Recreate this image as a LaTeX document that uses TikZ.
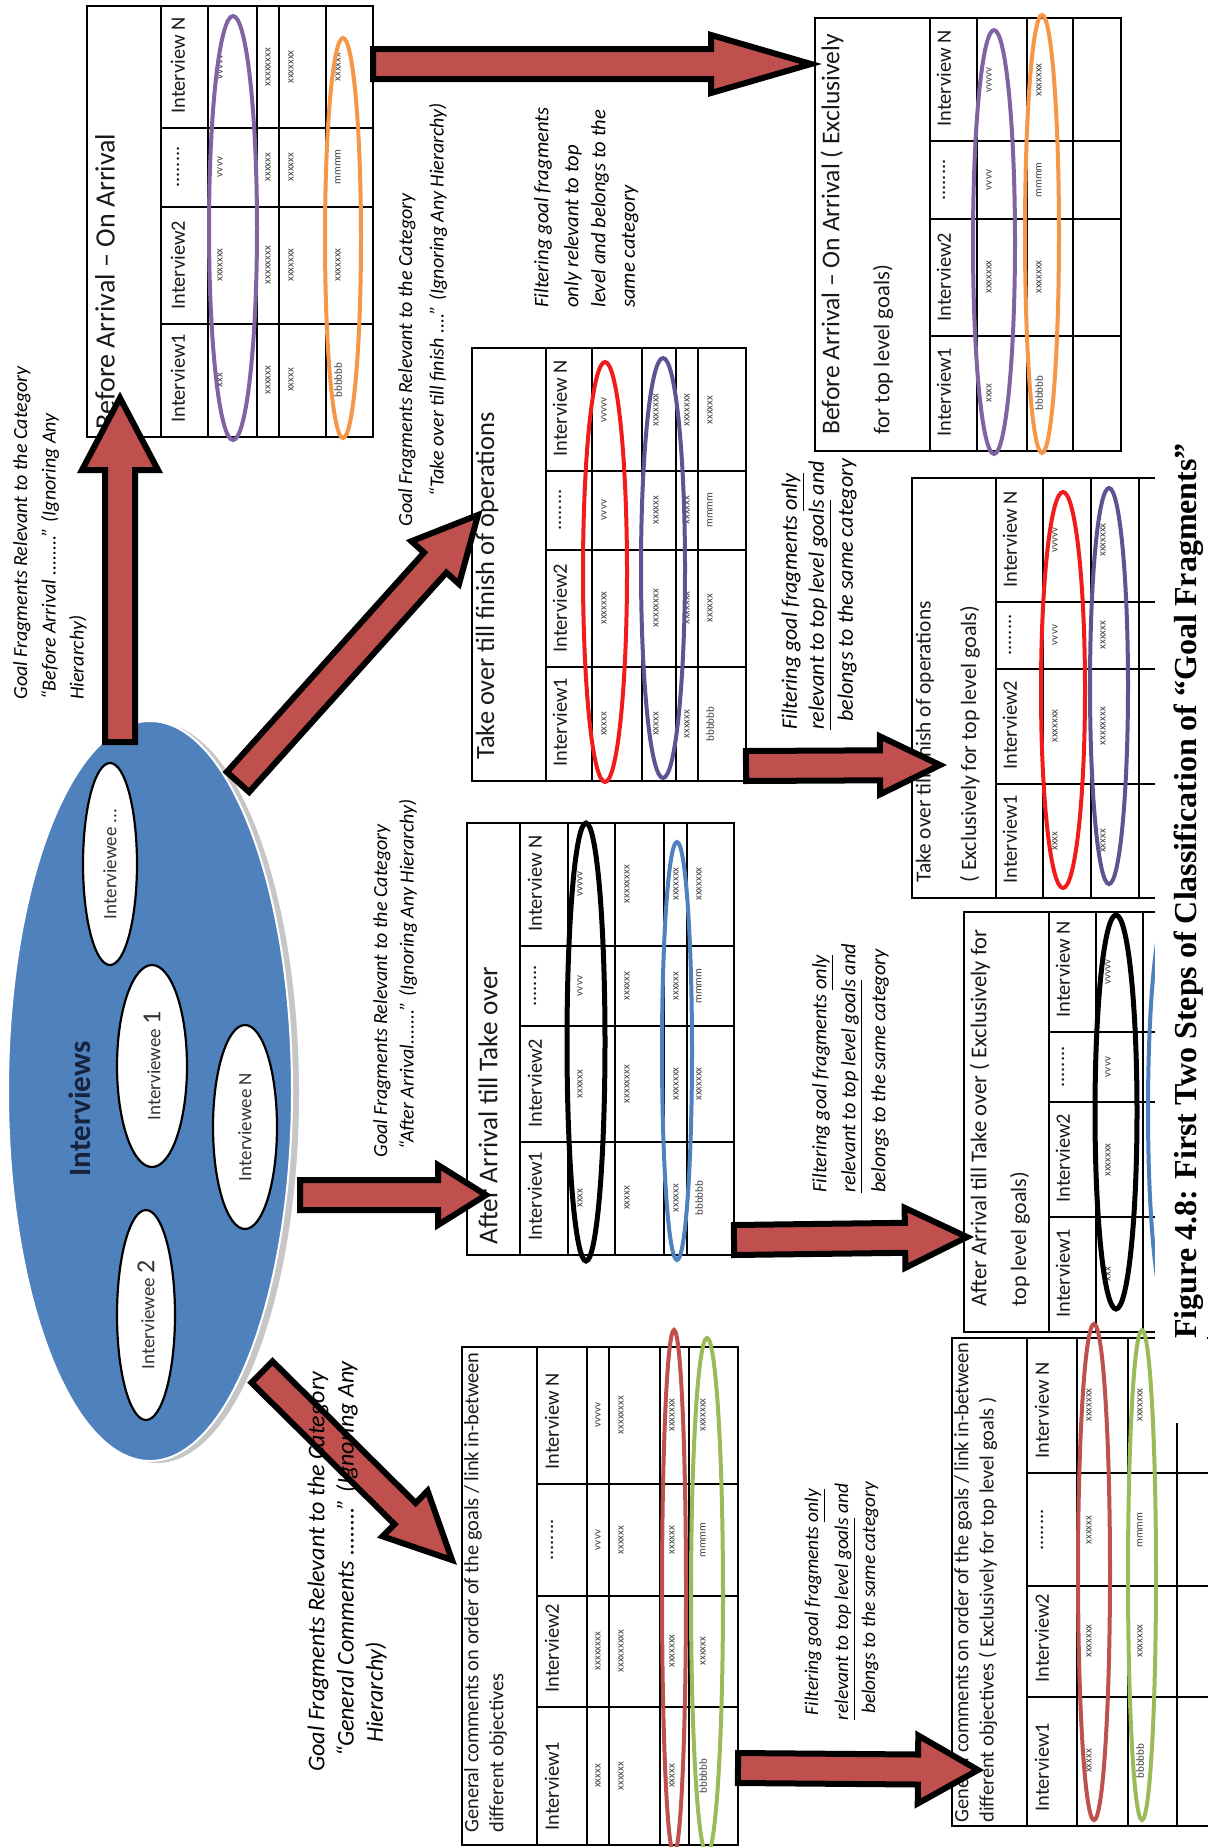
\documentclass[tikz,border=0pt]{standalone}
\usepackage{fontspec}
\setmainfont{Carlito}
\newfontfamily\captionserif{Liberation Serif}
\usetikzlibrary{shapes.geometric,calc}

\definecolor{arrowfill}{HTML}{C0504D}
\definecolor{poolblue}{HTML}{4F81BD}
\definecolor{ringpurple}{HTML}{8064A2}
\definecolor{ringorange}{HTML}{F79646}
\definecolor{ringred}{HTML}{F21B1B}
\definecolor{ringslate}{HTML}{5F5491}
\definecolor{ringblue}{HTML}{4F81BD}
\definecolor{ringbrick}{HTML}{C0504D}
\definecolor{ringgreen}{HTML}{9BBB59}
\definecolor{navyink}{HTML}{16233F}

\newcommand{\fsz}[1]{\fontsize{#1}{#1}\selectfont}

% fat outlined arrow from coordinate #1 to tip #2;
% #3 half shaft width, #4 half head width, #5 head length
\newcommand{\blockarrow}[5]{%
  \coordinate (ba-h) at ($(#2)!#5!(#1)$);
  \filldraw[fatarrow]
    ($(#1)!#3!90:(#2)$) -- ($(ba-h)!#3!-90:(#1)$) -- ($(ba-h)!#4!-90:(#1)$) -- (#2)
    -- ($(ba-h)!#4!90:(#1)$) -- ($(ba-h)!#3!90:(#1)$) -- ($(#1)!#3!-90:(#2)$) -- cycle;
}
% header row: prefix, x, lower ends of the Interview1 / Interview2 columns,
% centre of the dotted column, lower end of the Interview N column
\newcommand{\headrow}[6]{%
  \node[hdr] (#1-h1) at (#2,#3-14) {Interview1};
  \node[hdr] (#1-h2) at (#2,#4-14) {Interview2};
  \node[hdr,anchor=center] (#1-h3) at (#2,#5) {........};
  \node[hdr] (#1-h4) at (#2,#6-14) {Interview N};
}
\newcommand{\setcols}[4]{\def\colA{#1}\def\colB{#2}\def\colC{#3}\def\colD{#4}}
\newcommand{\cellrow}[6]{%
  \node[cell] (#1-a) at (#2,\colA) {#3};
  \node[cell] (#1-b) at (#2,\colB) {#4};
  \node[cell] (#1-c) at (#2,\colC) {#5};
  \node[cell] (#1-d) at (#2,\colD) {#6};
}

\begin{document}
\begin{tikzpicture}[x=0.5pt,y=-0.5pt,
  grid/.style={draw=black,line width=1.1pt},
  ttl/.style={rotate=90,anchor=west,inner sep=0pt,text=black!90},
  hdr/.style={rotate=90,anchor=west,inner sep=0pt,font=\fsz{10.2},text=black!90},
  cell/.style={rotate=90,inner sep=0pt,font=\fsz{5.5},text=black!75},
  lbl/.style={rotate=90,anchor=west,inner sep=0pt,text=black},
  ring/.style={line width=2pt},
  fatarrow/.style={fill=arrowfill,draw=black,line width=3pt,line join=miter},
  person/.style={ellipse,draw=black,line width=1.1pt,fill=white,rotate=90,inner sep=0pt,
                 font=\fsz{9.5},text=black!80}]
\useasboundingbox (0,0) rectangle (1207,1847);
\fill[white] (0,0) rectangle (1207,1847);

% ---------------- interview pool ----------------
\fill[gray!45] (157,1093) ellipse [x radius=142, y radius=370];
\node[ellipse,fill=poolblue,draw=white,line width=1pt,minimum width=142pt,minimum height=370pt,inner sep=0pt] (pool) at (150,1091) {};
\node[rotate=90,font=\bfseries\fsz{15.5},text=navyink] (pool-title) at (80,1109) {Interviews};
\node[person,minimum width=101pt,minimum height=27pt] (iw-more) at (110,864) {Interviewee ...};
\node[person,minimum width=101pt,minimum height=35pt] (iw-one) at (152,1066) {Interviewee {\fsz{13}1}};
\node[person,minimum width=102pt,minimum height=32pt] (iw-n) at (245,1127) {Interviewee N};
\node[person,minimum width=105pt,minimum height=29pt] (iw-two) at (146,1315) {Interviewee {\fsz{13}2}};

% ---------------- Before Arrival - On Arrival ----------------
\draw[grid] (87,6) rectangle (373,437);
\foreach \r in {161,208,257,279,326} \draw[grid] (\r,6) -- (\r,437);
\foreach \c in {128,207,324} \draw[grid] (161,\c) -- (373,\c);
\node[ttl,font=\fsz{14}] (t1-title) at (105,430) {Before Arrival – On Arrival};
\headrow{t1}{178}{437}{324}{167}{128}
\setcols{380}{265}{167}{67}
\cellrow{t1r1}{220}{xxx}{xxxxxxx}{vvvv}{vvvvv}
\cellrow{t1r2}{268}{xxxxxx}{xxxxxxxx}{xxxxxx}{xxxxxxxx}
\cellrow{t1r3}{291}{xxxxx}{xxxxxxx}{xxxxxx}{xxxxxxx}
\cellrow{t1r4}{338}{bbbbbb}{xxxxxxx}{mmmm}{xxxxxx}
\draw[ring,ringpurple] (233,228) ellipse [x radius=24, y radius=212];
\draw[ring,ringorange] (343,238) ellipse [x radius=18, y radius=200];

% ---------------- Before Arrival - On Arrival (top level) ----------------
\draw[grid] (815,18) rectangle (1121,451);
\foreach \r in {930,977,1027,1073} \draw[grid] (\r,18) -- (\r,451);
\foreach \c in {141,219,336} \draw[grid] (930,\c) -- (1121,\c);
\node[ttl,font=\fsz{12.8}] (t2-title) at (832,435) {Before Arrival – On Arrival ( Exclusively};
\node[ttl,font=\fsz{11.3}] (t2-title2) at (883,435) {for top level goals)};
\headrow{t2}{944}{451}{336}{180}{141}
\setcols{393}{277}{180}{80}
\cellrow{t2r1}{989}{xxxx}{xxxxxxx}{vvvv}{vvvvv}
\cellrow{t2r2}{1039}{bbbbbb}{xxxxxxx}{mmmm}{xxxxxxx}
\draw[ring,ringpurple] (994,242) ellipse [x radius=21, y radius=212];
\draw[ring,ringorange] (1042,234) ellipse [x radius=17, y radius=219];

% ---------------- Take over till finish of operations ----------------
\draw[grid] (472,348) rectangle (746,781);
\foreach \r in {546,592,642,676,698} \draw[grid] (\r,348) -- (\r,781);
\foreach \c in {471,550,667} \draw[grid] (546,\c) -- (746,\c);
\node[ttl,font=\fsz{13.2}] (t3-title) at (487,760) {Take over till finish of operations};
\headrow{t3}{560}{781}{667}{510}{471}
\setcols{724}{608}{510}{410}
\cellrow{t3r1}{604}{xxxxx}{xxxxxxx}{vvvv}{vvvvv}
\cellrow{t3r2}{656}{xxxxx}{xxxxxxxx}{xxxxxx}{xxxxxxx}
\cellrow{t3r3}{687}{xxxxxx}{xxxxxxx}{xxxxxx}{xxxxxxx}
\cellrow{t3r4}{710}{bbbbbb}{xxxxxx}{mmmm}{xxxxxx}
\draw[ring,ringred] (605,572) ellipse [x radius=22, y radius=210];
\draw[ring,ringslate] (663,568) ellipse [x radius=22, y radius=210];

% ---------------- Take over ... (top level) ----------------
\draw[grid] (912,478) rectangle (1170,898);
\foreach \r in {996,1043,1091,1139} \draw[grid] (\r,478) -- (\r,898);
\foreach \c in {602,669,784} \draw[grid] (996,\c) -- (1170,\c);
\node[ttl,font=\fsz{10.7}] (t4-title) at (925,883) {Take over till finish of operations};
\node[ttl,font=\fsz{11}] (t4-title2) at (970,883) {( Exclusively for top level goals)};
\headrow{t4}{1010}{898}{784}{635}{602}
\setcols{841}{726}{635}{540}
\cellrow{t4r1}{1055}{xxxx}{xxxxxxx}{vvvv}{vvvvv}
\cellrow{t4r2}{1103}{xxxxx}{xxxxxxxx}{xxxxxx}{xxxxxxx}
\draw[ring,ringred] (1063,690) ellipse [x radius=22, y radius=198];
\draw[ring,ringslate] (1109,686) ellipse [x radius=19, y radius=198];

% ---------------- After Arrival till Take over ----------------
\draw[grid] (467,823) rectangle (734,1255);
\foreach \r in {520,568,615,664,687} \draw[grid] (\r,823) -- (\r,1255);
\foreach \c in {946,1026,1142} \draw[grid] (520,\c) -- (734,\c);
\node[ttl,font=\fsz{13.6}] (t5-title) at (488,1245) {After Arrival till Take over};
\headrow{t5}{535}{1255}{1142}{986}{946}
\setcols{1198}{1084}{986}{884}
\cellrow{t5r1}{580}{xxxx}{xxxxxx}{vvvv}{vvvvv}
\cellrow{t5r2}{627}{xxxxx}{xxxxxxxx}{xxxxxx}{xxxxxxxx}
\cellrow{t5r3}{676}{xxxxxx}{xxxxxxx}{xxxxxx}{xxxxxxx}
\cellrow{t5r4}{699}{bbbbbb}{xxxxxxx}{mmmm}{xxxxxxx}
\draw[ring,black,line width=2.5pt] (586,1042) ellipse [x radius=19, y radius=219];
\draw[ring,ringblue] (677,1051) ellipse [x radius=15, y radius=209];

% ---------------- After Arrival ... (top level) ----------------
\draw[grid] (964,912) rectangle (1170,1332);
\foreach \r in {1049,1096,1143} \draw[grid] (\r,912) -- (\r,1332);
\foreach \c in {1032,1102,1217} \draw[grid] (1049,\c) -- (1170,\c);
\node[ttl,font=\fsz{11.3}] (t6-title) at (980,1307) {After Arrival till Take over ( Exclusively for};
\node[ttl,font=\fsz{11}] (t6-title2) at (1020,1307) {top level goals)};
\headrow{t6}{1063}{1332}{1217}{1067}{1032}
\setcols{1274}{1160}{1067}{972}
\cellrow{t6r1}{1108}{xxx}{xxxxxxx}{vvvv}{vvvvv}
\draw[ring,black,line width=2.5pt] (1116,1112) ellipse [x radius=21, y radius=197];
\draw[ring,ringblue] (1168,1110) ellipse [x radius=20, y radius=200];

% ---------------- General comments ----------------
\draw[grid] (462,1347) rectangle (738,1845);
\foreach \r in {537,587,609,660,689} \draw[grid] (\r,1347) -- (\r,1845);
\foreach \c in {1484,1596,1707} \draw[grid] (537,\c) -- (738,\c);
\node[ttl,font=\fsz{10.2}] (t7-title) at (473,1833) {General comments on order of the goals / link in-between};
\node[ttl,font=\fsz{10.2}] (t7-title2) at (498,1833) {different objectives};
\headrow{t7}{552}{1845}{1707}{1540}{1484}
\setcols{1776}{1651}{1540}{1415}
\cellrow{t7r1}{598}{xxxxx}{xxxxxxxx}{vvvv}{vvvvv}
\cellrow{t7r2}{621}{xxxxxx}{xxxxxxxxx}{xxxxxx}{xxxxxxxx}
\cellrow{t7r3}{672}{xxxxx}{xxxxxxx}{xxxxxx}{xxxxxxx}
\cellrow{t7r4}{703}{bbbbbb}{xxxxxx}{mmmm}{xxxxxxx}
\draw[ring,ringbrick] (674,1592) ellipse [x radius=12, y radius=262];
\draw[ring,ringgreen] (707,1596) ellipse [x radius=16, y radius=258];

% ---------------- General comments (top level) ----------------
\draw[grid] (952,1338) rectangle (1230,1826);
\foreach \r in {1027,1077,1128,1177} \draw[grid] (\r,1338) -- (\r,1826);
\foreach \c in {1473,1586,1697} \draw[grid] (1027,\c) -- (1230,\c);
\node[ttl,font=\fsz{10.2}] (t8-title) at (963,1823) {General comments on order of the goals / link in-between};
\node[ttl,font=\fsz{10.2}] (t8-title2) at (988,1823) {different objectives ( Exclusively for top level goals )};
\headrow{t8}{1042}{1826}{1697}{1530}{1473}
\setcols{1761}{1641}{1530}{1405}
\cellrow{t8r1}{1089}{xxxxx}{xxxxxxx}{xxxxxx}{xxxxxxx}
\cellrow{t8r2}{1140}{bbbbbb}{xxxxxxx}{mmmm}{xxxxxxx}
\draw[ring,ringbrick] (1094,1572) ellipse [x radius=16, y radius=248];
\draw[ring,ringgreen] (1142,1575) ellipse [x radius=14, y radius=245];

% ---------------- arrow captions ----------------
\begin{scope}[every node/.append style={font=\itshape\fsz{10}}]
\node[lbl] (c1a) at (22,700) {Goal Fragments Relevant to the Category};
\node[lbl] (c1b) at (50,700) {“Before Arrival ........” (Ignoring Any};
\node[lbl] (c1c) at (78,700) {Hierarchy)};
\node[lbl] (c2a) at (407,527) {Goal Fragments Relevant to the Category};
\node[lbl] (c2b) at (438,497) {“Take over till finish ....” (Ignoring Any Hierarchy)};
\node[lbl] (c3a) at (382,1158) {Goal Fragments Relevant to the Category};
\node[lbl] (c3b) at (408,1150) {“After Arrival.......” (Ignoring Any Hierarchy)};
\end{scope}
\begin{scope}[every node/.append style={font=\itshape\fsz{10.3}}]
\node[lbl] (f1a) at (543,308) {Filtering goal fragments};
\node[lbl] (f1b) at (573,308) {only relevant to top};
\node[lbl] (f1c) at (600,308) {level and belongs to the};
\node[lbl] (f1d) at (630,308) {same category};
\end{scope}
\begin{scope}[every node/.append style={font=\itshape\fsz{11}}]
\node[lbl] (f2a) at (793,730) {Filtering goal fragments \underline{only}};
\node[lbl] (f2b) at (820,730) {\underline{relevant to top level goals} and};
\node[lbl] (f2c) at (847,722) {belongs to the same category};
\end{scope}
\begin{scope}[every node/.append style={font=\itshape\fsz{10.2}}]
\node[lbl] (f3a) at (823,1193) {Filtering goal fragments \underline{only}};
\node[lbl] (f3b) at (852,1193) {\underline{relevant to top level goals} and};
\node[lbl] (f3c) at (880,1193) {belongs to the same category};
\end{scope}
\begin{scope}[every node/.append style={font=\itshape\fsz{9.7}}]
\node[lbl,anchor=center] (f4a) at (815,1602) {Filtering goal fragments \underline{only}};
\node[lbl,anchor=center] (f4b) at (845,1602) {\underline{relevant to top level goals} and};
\node[lbl,anchor=center] (f4c) at (870,1598) {belongs to the same category};
\end{scope}

% ---------------- arrows ----------------
\coordinate (a1s) at (120,742);  \coordinate (a1t) at (120,398);
\coordinate (a2s) at (238,782);  \coordinate (a2t) at (478,515);
\coordinate (a3s) at (300,1195); \coordinate (a3t) at (486,1195);
\coordinate (a4s) at (262,1372); \coordinate (a4t) at (452,1560);
\coordinate (a5s) at (373,64);   \coordinate (a5t) at (811,64);
\coordinate (a6s) at (746,766);  \coordinate (a6t) at (940,765);
\coordinate (a7s) at (734,1240); \coordinate (a7t) at (967,1237);
\coordinate (a8s) at (738,1768); \coordinate (a8t) at (978,1770);
\blockarrow{a1s}{a1t}{7.5pt}{19pt}{36pt}
\blockarrow{a2s}{a2t}{7.5pt}{16pt}{32pt}
\blockarrow{a3s}{a3t}{7.5pt}{15pt}{24pt}
\blockarrow{a4s}{a4t}{7.5pt}{16pt}{33pt}
\blockarrow{a5s}{a5t}{7.5pt}{14.5pt}{50pt}
\blockarrow{a6s}{a6t}{7.5pt}{14.5pt}{30pt}
\blockarrow{a7s}{a7t}{7.5pt}{15pt}{31pt}
\blockarrow{a8s}{a8t}{7.5pt}{17pt}{30pt}

% caption of the general-comments arrow sits above that arrow
\begin{scope}[every node/.append style={font=\itshape\fsz{12}}]
\node[lbl] (c4a) at (318,1772) {Goal Fragments Relevant to the Category};
\node[lbl] (c4b) at (347,1757) {“General Comments ........” (Ignoring Any};
\node[lbl] (c4c) at (376,1743) {Hierarchy)};
\end{scope}

% ---------------- caption ----------------
\fill[white] (1155,0) rectangle (1207,1423);
\node[rotate=90,inner sep=0pt,font=\captionserif\bfseries\fsz{16}] (caption) at (1189,891)
  {Figure 4.8: First Two Steps of Classification of “Goal Fragments”};
\end{tikzpicture}
\end{document}
